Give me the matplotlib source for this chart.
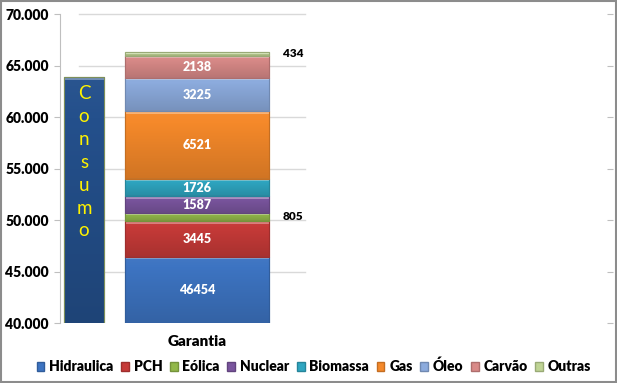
import numpy as np
import matplotlib
matplotlib.use("Agg")
import matplotlib.pyplot as plt
from matplotlib.colors import to_rgb
from matplotlib.patches import Rectangle

plt.rcParams['font.family'] = ['Lato', 'DejaVu Sans']
BOLD = 800

# ---- data ----
sources = ["Hidraulica", "PCH", "Eólica", "Nuclear", "Biomassa", "Gas", "Óleo", "Carvão", "Outras"]
garantia = [46454, 3445, 805, 1587, 1726, 6521, 3225, 2138, 434]
colors = ["#3D74C2", "#C63A38", "#92B84A", "#7A559E", "#2FA6C1", "#F5892A", "#8CABDD", "#D98A88", "#BFD494"]
consumo_value = 63900
consumo_label = "Consumo"
category = "Garantia"
yticks = [40000, 45000, 50000, 55000, 60000, 65000, 70000]
ytick_labels = ["40.000", "45.000", "50.000", "55.000", "60.000", "65.000", "70.000"]
outside_labels = {"Eólica", "Outras"}

W, H = 617, 383
fig = plt.figure(figsize=(W / 100, H / 100), dpi=100)
fig.patches.append(Rectangle((0.002, 0.002), 0.996, 0.996, transform=fig.transFigure,
                             fill=False, edgecolor="#8C8C8C", linewidth=1.5))

ax = fig.add_axes([60 / W, 1 - 323 / H, 547 / W, 309 / H])
ymin, ymax = 40000, 70000
ax.set_ylim(ymin, ymax)
ax.set_xlim(-0.212, 4.628)

# gridlines (only over the bar region)
for yv in yticks[1:]:
    ax.plot([-0.04, 1.956], [yv, yv], color="#D9D9D9", lw=1.0, zorder=0, clip_on=False)

def shade(c, f):
    r = np.array(to_rgb(c))
    if f >= 0:
        return r + (1 - r) * f
    return r * (1 + f)

BAND = 280  # highlight band height in data units

def gradient_bar(x, bottom, height, width, color, edge):
    rect = ax.bar(x, height, width=width, bottom=bottom, color=color, edgecolor=edge,
                  linewidth=0.8, zorder=2)[0]
    lo = max(bottom, ymin)
    hi = bottom + height
    n = 200
    yy = np.linspace(lo, hi, n)
    t = (yy - lo) / (hi - lo)
    cols = []
    for tt, y in zip(t, yy):
        if hi - y < BAND:
            cols.append(shade(color, 0.35))
        else:
            cols.append(shade(color, -0.15 + 0.18 * tt))
    img = np.array(cols)[:, None, :]
    im = ax.imshow(img, extent=[x - width / 2, x + width / 2, lo, hi], origin="lower",
                   aspect="auto", zorder=2.5, interpolation="nearest")
    im.set_clip_path(rect)
    ax.bar(x, height, width=width, bottom=bottom, fill=False, edgecolor=edge,
           linewidth=0.8, zorder=3)
    return rect

# Consumo bar
gradient_bar(0, 0, consumo_value, 0.354, "#24508C", "#7D8F5A")
ax.text(0, 55600, "\n".join(list(consumo_label)), ha="center", va="center",
        color="#FFF200", fontsize=13.5, linespacing=1.42, zorder=5)

# Garantia stacked bar
bottom = 0
for name, v, c in zip(sources, garantia, colors):
    gradient_bar(1, bottom, v, 1.274, c, shade(c, -0.2))
    mid = max(bottom, ymin) + (bottom + v - max(bottom, ymin)) / 2
    if name in outside_labels:
        ax.text(1.85, mid, str(v), ha="center", va="center", color="black",
                fontsize=8.5, fontweight=BOLD, zorder=5)
    else:
        ax.text(1, mid, str(v), ha="center", va="center", color="white",
                fontsize=9, fontweight=BOLD, zorder=5)
    bottom += v

# axes styling
for s in ["top", "right", "bottom"]:
    ax.spines[s].set_visible(False)
ax.spines["left"].set_color("#BFBFBF")
ax.set_yticks(yticks)
ax.set_yticklabels(ytick_labels, fontsize=10, fontweight=BOLD)
ax.tick_params(axis="y", length=4, color="#BFBFBF", pad=4, right=True)
ax.set_xticks([1])
ax.set_xticklabels([category], fontsize=11, fontweight=BOLD)
ax.tick_params(axis="x", length=0, pad=9)

handles = [Rectangle((0, 0), 1, 1, facecolor=c, edgecolor=shade(c, -0.2)) for c in colors]
fig.legend(handles, sources, loc="center", bbox_to_anchor=(314 / W, 1 - 366 / H), ncol=9,
           frameon=False, handlelength=0.55, handleheight=0.55, handletextpad=0.35,
           columnspacing=0.55, prop={"weight": BOLD, "size": 10})

fig.savefig("out.png", dpi=100)
